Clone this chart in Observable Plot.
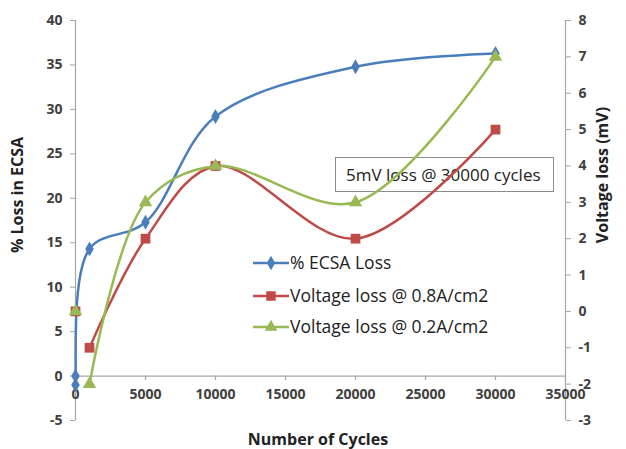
<!DOCTYPE html>
<html>
<head>
<meta charset="utf-8">
<script src="https://cdn.jsdelivr.net/npm/d3@7"></script>
<script src="https://cdn.jsdelivr.net/npm/@observablehq/plot@0.6"></script>
<style>
  html, body { margin: 0; padding: 0; background: #fff; }
  #chart { width: 626px; height: 449px; }
</style>
</head>
<body>
<div id="chart"></div>
<script>
// ---- data ----
const xTicks = [0, 5000, 10000, 15000, 20000, 25000, 30000, 35000];
const leftTicks = [-5, 0, 5, 10, 15, 20, 25, 30, 35, 40];
const rightTicks = [-3, -2, -1, 0, 1, 2, 3, 4, 5, 6, 7, 8];

const ecsaCycles = [0, 0, 1000, 5000, 10000, 20000, 30000];
const ecsaLoss = [-1, 0, 14.3, 17.3, 29.2, 34.8, 36.3];

// voltage-loss points at 0 cycles are drawn as unconnected markers
const vStartCycles = [0];
const vStart08 = [0];
const vStart02 = [0];
const vCycles = [1000, 5000, 10000, 20000, 30000];
const vLoss08 = [-1, 2, 4, 2, 5];
const vLoss02 = [-2, 3, 4, 3, 7];

const seriesNames = ["% ECSA Loss", "Voltage loss @ 0.8A/cm2", "Voltage loss @ 0.2A/cm2"];
const seriesColors = ["#4A7EBB", "#BE4B48", "#98B954"];
const annotationText = "5mV loss @ 30000 cycles";

// right axis (-3..8) mapped onto left axis (-5..40)
const toLeft = v => (v + 3) * 45 / 11 - 5;
const fromLeft = y => (y + 5) * 11 / 45 - 3;

const ecsa = ecsaCycles.map((x, i) => ({x, y: ecsaLoss[i]}));
const v08 = vCycles.map((x, i) => ({x, y: toLeft(vLoss08[i])}));
const v02 = vCycles.map((x, i) => ({x, y: toLeft(vLoss02[i])}));
const v08s = vStartCycles.map((x, i) => ({x, y: toLeft(vStart08[i])}));
const v02s = vStartCycles.map((x, i) => ({x, y: toLeft(vStart02[i])}));

const FONT = "'Open Sans', Lato, sans-serif";
const axisGray = "#A6A6A6";
const tickText = "#404040";

function annotationMark(index, scales, values, dims) {
  const g = d3.create("svg:g");
  g.append("rect").attr("x", 335.5).attr("y", 157.5).attr("width", 218).attr("height", 34)
    .attr("fill", "#fff").attr("stroke", "#8c8c8c").attr("stroke-width", 1);
  g.append("text").attr("x", 346).attr("y", 175).attr("dy", "0.35em")
    .attr("text-anchor", "start").attr("font-family", FONT)
    .attr("font-size", 17).attr("fill", "#222").text(annotationText);
  return g.node();
}

function legendMark(index, scales, values, dims) {
  const g = d3.create("svg:g");
  const ys = [263, 296, 327];
  const symbols = [d3.symbolDiamond, d3.symbolSquare, d3.symbolTriangle];
  const sizes = [60, 90, 70];
  ys.forEach((y, i) => {
    g.append("line").attr("x1", 253).attr("x2", 289).attr("y1", y).attr("y2", y)
      .attr("stroke", seriesColors[i]).attr("stroke-width", 2.5);
    g.append("path").attr("transform", `translate(271,${y})`)
      .attr("d", d3.symbol(symbols[i], sizes[i])()).attr("fill", seriesColors[i]);
    g.append("text").attr("x", 290).attr("y", y).attr("dy", "0.35em")
      .attr("text-anchor", "start")
      .attr("font-family", FONT).attr("font-size", 17.5).attr("fill", "#222")
      .text(seriesNames[i]);
  });
  return g.node();
}

function titlesMark(index, scales, values, dims) {
  const g = d3.create("svg:g").attr("font-family", FONT).attr("font-weight", "bold")
    .attr("font-size", 16).attr("fill", "#222");
  g.append("text").attr("transform", "translate(23,195) rotate(-90)")
    .attr("text-anchor", "middle").text("% Loss in ECSA");
  g.append("text").attr("transform", "translate(608,175) rotate(-90)")
    .attr("text-anchor", "middle").text("Voltage loss (mV)");
  g.append("text").attr("x", 318).attr("y", 445)
    .attr("text-anchor", "middle").text("Number of Cycles");
  return g.node();
}

const chart = Plot.plot({
  width: 626,
  height: 449,
  marginLeft: 75,
  marginRight: 61,
  marginTop: 20,
  marginBottom: 29,
  style: {fontFamily: FONT, background: "#fff", overflow: "visible"},
  x: {domain: [0, 35000], axis: null},
  y: {domain: [-5, 40], axis: null},
  marks: [
    // axis lines
    Plot.ruleX([0], {stroke: axisGray, strokeWidth: 1.2}),
    Plot.ruleX([35000], {stroke: axisGray, strokeWidth: 1.2}),
    Plot.ruleY([0], {stroke: axisGray, strokeWidth: 1.2}),
    // x ticks at y = 0
    Plot.ruleX(xTicks, {x: d => d, y1: 0, y2: -0.5, stroke: axisGray, strokeWidth: 1.2}),
    Plot.text(xTicks, {x: d => d, y: 0, dy: 18, text: d => String(d), fontWeight: "bold",
      fontSize: 14, fill: tickText}),
    // left axis
    Plot.axisY(leftTicks, {anchor: "left", tickSize: 5, tickPadding: 8, stroke: axisGray,
      fill: tickText, fontWeight: "bold", fontSize: 14, label: null,
      tickFormat: d => String(d)}),
    // right axis
    Plot.axisY(rightTicks.map(toLeft), {anchor: "right", tickSize: 5, tickPadding: 8,
      stroke: axisGray, fill: tickText, fontWeight: "bold", fontSize: 14, label: null,
      tickFormat: d => String(Math.round(fromLeft(d)))}),
    annotationMark,
    // series
    Plot.line(ecsa, {x: "x", y: "y", stroke: seriesColors[0], strokeWidth: 2.5, curve: "catmull-rom"}),
    Plot.line(v08, {x: "x", y: "y", stroke: seriesColors[1], strokeWidth: 2.5, curve: "catmull-rom"}),
    Plot.line(v02, {x: "x", y: "y", stroke: seriesColors[2], strokeWidth: 2.5, curve: "catmull-rom"}),
    Plot.dot(ecsa, {x: "x", y: "y", symbol: "diamond", fill: seriesColors[0], r: 4.5}),
    Plot.dot(v08s.concat(v08), {x: "x", y: "y", symbol: "square", fill: seriesColors[1], r: 5.5}),
    Plot.dot(v02s.concat(v02), {x: "x", y: "y", symbol: "triangle", fill: seriesColors[2], r: 5}),
    legendMark,
    titlesMark
  ]
});
document.getElementById("chart").appendChild(chart);
</script>
</body>
</html>
